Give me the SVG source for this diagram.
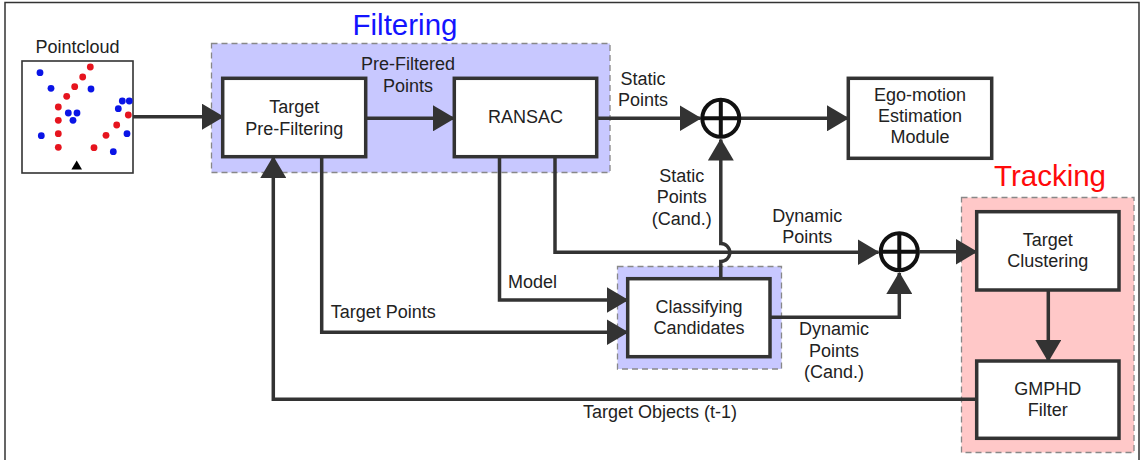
<svg xmlns="http://www.w3.org/2000/svg" width="1141" height="460" viewBox="0 0 1141 460">
  <style>
    .lbl { font-family: "Liberation Sans", Arial, sans-serif; font-size: 18px; fill: #222; text-anchor: middle; }
    .lbl-l { font-family: "Liberation Sans", Arial, sans-serif; font-size: 18px; fill: #222; text-anchor: start; }
    .title { font-family: "Liberation Sans", Arial, sans-serif; font-size: 29.5px; text-anchor: middle; }
    .box { fill: #ffffff; stroke: #333333; stroke-width: 3.5; }
    .wire { fill: none; stroke: #333333; stroke-width: 3.5; stroke-linejoin: miter; }
    .region { stroke: #888888; stroke-width: 1.3; stroke-dasharray: 6 4; }
    .sum { fill: #ffffff; stroke: #111111; stroke-width: 4; }
    .sumx { stroke: #111111; stroke-width: 4; }
    .blue { fill: #0a14e6; }
    .red { fill: #e6141e; }
  </style>
  <defs>
    <marker id="arrow" markerUnits="userSpaceOnUse" markerWidth="22" markerHeight="26" viewBox="0 0 22 26" refX="21" refY="13" orient="auto">
      <path d="M0,0 L22,13 L0,26 Z" fill="#333333"/>
    </marker>
  </defs>

  <rect width="1141" height="460" fill="#ffffff"/>
  <!-- outer frame -->
  <path d="M5,460 L5,2.5 L1139,2.5 L1139,460" fill="none" stroke="#333333" stroke-width="1.5"/>

  <!-- group regions -->
  <g id="filtering-region">
    <rect class="region" x="211.5" y="43.5" width="398.5" height="129" fill="#c8c8ff"/>
    <text class="title" x="405" y="35" fill="#1414ff">Filtering</text>
  </g>
  <g id="tracking-region">
    <rect class="region" x="961.5" y="197.5" width="172.5" height="255" fill="#ffc8c8"/>
    <text class="title" x="1050" y="186" fill="#ff0a0a">Tracking</text>
  </g>
  <g id="classifying-region">
    <rect class="region" x="617.5" y="266.5" width="164" height="102.5" fill="#c8c8ff"/>
  </g>

  <!-- connectors -->
  <g id="connectors">
    <!-- pointcloud to pre-filtering -->
    <line class="wire" x1="133" y1="116.7" x2="223" y2="116.7" marker-end="url(#arrow)"/>
    <!-- pre-filtered points to RANSAC -->
    <line class="wire" x1="366" y1="118.3" x2="454" y2="118.3" marker-end="url(#arrow)"/>
    <!-- static points to sum 1 -->
    <line class="wire" x1="597" y1="118.3" x2="700.5" y2="118.3" marker-end="url(#arrow)"/>
    <!-- sum 1 to ego-motion -->
    <line class="wire" x1="741" y1="118.3" x2="848" y2="118.3" marker-end="url(#arrow)"/>
    <!-- target points to classifying -->
    <polyline class="wire" points="321.7,157 321.7,332.3 627.5,332.3" marker-end="url(#arrow)"/>
    <!-- model to classifying -->
    <polyline class="wire" points="499.5,157 499.5,300 627.5,300" marker-end="url(#arrow)"/>
    <!-- dynamic points to sum 2 -->
    <polyline class="wire" points="555,157 555,252.3 878.5,252.3" marker-end="url(#arrow)"/>
    <!-- static candidates to sum 1, hopping over the dynamic points line -->
    <path class="wire" d="M720.8,278.7 L720.8,261.5 A9,9 0 0 0 720.8,243.5 L720.8,139.5" marker-end="url(#arrow)"/>
    <!-- dynamic candidates to sum 2 -->
    <polyline class="wire" points="770,317.3 899.3,317.3 899.3,273" marker-end="url(#arrow)"/>
    <!-- sum 2 to clustering -->
    <line class="wire" x1="919.5" y1="251.7" x2="976.5" y2="251.7" marker-end="url(#arrow)"/>
    <!-- clustering to GMPHD -->
    <line class="wire" x1="1048.3" y1="290" x2="1048.3" y2="361" marker-end="url(#arrow)"/>
    <!-- feedback: target objects (t-1) -->
    <polyline class="wire" points="976.5,399.3 273.3,399.3 273.3,157" marker-end="url(#arrow)"/>
  </g>

  <!-- connector labels -->
  <g id="labels">
    <text class="lbl" x="408" y="70">Pre-Filtered</text>
    <text class="lbl" x="408" y="91.7">Points</text>
    <text class="lbl" x="643" y="85">Static</text>
    <text class="lbl" x="643" y="105.7">Points</text>
    <text class="lbl" x="681.7" y="181.7">Static</text>
    <text class="lbl" x="681.7" y="202.7">Points</text>
    <text class="lbl" x="681.7" y="225">(Cand.)</text>
    <text class="lbl" x="807.3" y="221.7">Dynamic</text>
    <text class="lbl" x="807.3" y="243.3">Points</text>
    <text class="lbl-l" x="508" y="288.3">Model</text>
    <text class="lbl-l" x="330.7" y="318.3">Target Points</text>
    <text class="lbl" x="834" y="335">Dynamic</text>
    <text class="lbl" x="834" y="356.7">Points</text>
    <text class="lbl" x="834" y="378.3">(Cand.)</text>
    <text class="lbl" x="660" y="418">Target Objects (t-1)</text>
  </g>

  <!-- pointcloud input -->
  <g id="pointcloud">
    <text class="lbl" x="77.5" y="52.7">Pointcloud</text>
    <rect x="22" y="61" width="111" height="112" fill="#ffffff" stroke="#333333" stroke-width="1.6"/>
    <g class="blue">
      <circle cx="40" cy="72.7" r="3.4"/>
      <circle cx="51" cy="88.3" r="3.4"/>
      <circle cx="91" cy="89" r="3.4"/>
      <circle cx="122.3" cy="101" r="3.4"/>
      <circle cx="129.3" cy="101" r="3.4"/>
      <circle cx="118.3" cy="108.7" r="3.4"/>
      <circle cx="68.3" cy="113" r="3.4"/>
      <circle cx="77" cy="113" r="3.4"/>
      <circle cx="73" cy="120.3" r="3.4"/>
      <circle cx="41.3" cy="135.7" r="3.4"/>
      <circle cx="127" cy="133.7" r="3.4"/>
      <circle cx="113.3" cy="151.7" r="3.4"/>
    </g>
    <g class="red">
      <circle cx="90.3" cy="67" r="3.4"/>
      <circle cx="82.7" cy="77" r="3.4"/>
      <circle cx="74.7" cy="86.7" r="3.4"/>
      <circle cx="66.7" cy="96.3" r="3.4"/>
      <circle cx="58.3" cy="107" r="3.4"/>
      <circle cx="58.3" cy="120.3" r="3.4"/>
      <circle cx="128.3" cy="115" r="3.4"/>
      <circle cx="116.7" cy="125" r="3.4"/>
      <circle cx="106" cy="135.3" r="3.4"/>
      <circle cx="58.3" cy="133.7" r="3.4"/>
      <circle cx="58.3" cy="147.3" r="3.4"/>
      <circle cx="94" cy="147.7" r="3.4"/>
    </g>
    <path d="M76.7,160.5 L82,169.5 L71.4,169.5 Z" fill="#000000"/>
  </g>

  <!-- processing blocks -->
  <g id="target-prefiltering">
    <rect class="box" x="222.7" y="78.3" width="143" height="78.4"/>
    <text class="lbl" x="294.2" y="112.7">Target</text>
    <text class="lbl" x="294.2" y="135">Pre-Filtering</text>
  </g>
  <g id="ransac">
    <rect class="box" x="454.3" y="78.3" width="142.4" height="78.4"/>
    <text class="lbl" x="525.5" y="123.3">RANSAC</text>
  </g>
  <g id="ego-motion">
    <rect class="box" x="848.3" y="78.3" width="143.4" height="80"/>
    <text class="lbl" x="920" y="100.7">Ego-motion</text>
    <text class="lbl" x="920" y="122">Estimation</text>
    <text class="lbl" x="920" y="143.3">Module</text>
  </g>
  <g id="classifying-candidates">
    <rect class="box" x="627.7" y="278.7" width="142.3" height="78"/>
    <text class="lbl" x="699" y="313.3">Classifying</text>
    <text class="lbl" x="699" y="334.3">Candidates</text>
  </g>
  <g id="target-clustering">
    <rect class="box" x="976.7" y="211.7" width="142.3" height="78.3"/>
    <text class="lbl" x="1047.8" y="246">Target</text>
    <text class="lbl" x="1047.8" y="267.3">Clustering</text>
  </g>
  <g id="gmphd-filter">
    <rect class="box" x="976.7" y="361" width="142.3" height="77.3"/>
    <text class="lbl" x="1047.8" y="395">GMPHD</text>
    <text class="lbl" x="1047.8" y="416">Filter</text>
  </g>

  <!-- summing junctions -->
  <g id="sum-static">
    <circle class="sum" cx="720.8" cy="118.3" r="18.5"/>
    <line class="sumx" x1="702.3" y1="118.3" x2="739.3" y2="118.3"/>
    <line class="sumx" x1="720.8" y1="99.8" x2="720.8" y2="136.8"/>
  </g>
  <g id="sum-dynamic">
    <circle class="sum" cx="899.3" cy="251.7" r="18.5"/>
    <line class="sumx" x1="880.8" y1="251.7" x2="917.8" y2="251.7"/>
    <line class="sumx" x1="899.3" y1="233.2" x2="899.3" y2="270.2"/>
  </g>
</svg>
